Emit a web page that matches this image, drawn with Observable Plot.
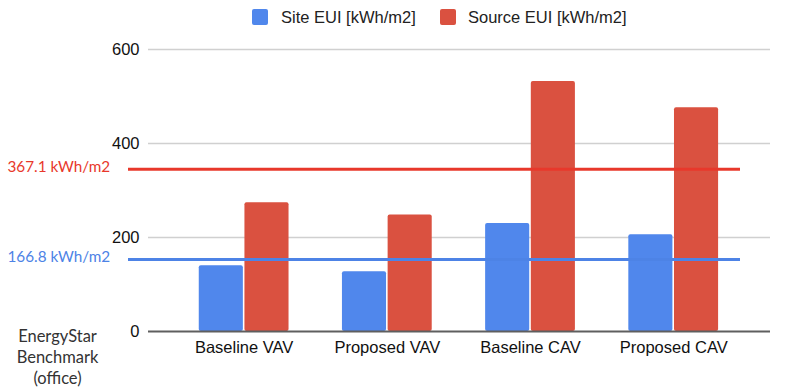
<!DOCTYPE html>
<html>
<head>
<meta charset="utf-8">
<script src="https://cdn.jsdelivr.net/npm/d3@7"></script>
<script src="https://cdn.jsdelivr.net/npm/@observablehq/plot@0.6"></script>
<style>
  html, body { margin: 0; padding: 0; background: #fff; }
  #wrap { position: relative; width: 788px; height: 388px; overflow: hidden; font-family: "Liberation Sans", Arial, sans-serif; }
  #legend { position: relative; height: 34px; }
  .sw { position: absolute; top: 9px; width: 16px; height: 16px; border-radius: 2px; }
  .lt { position: absolute; top: 7px; font-size: 16.5px; line-height: 20px; color: #222; white-space: nowrap; }
  svg { display: block; }
</style>
</head>
<body>
<div id="wrap">
  <div id="legend"></div>
  <div id="chart"></div>
</div>
<script>
const categories = ["Baseline VAV", "Proposed VAV", "Baseline CAV", "Proposed CAV"];
const seriesNames = ["Site EUI [kWh/m2]", "Source EUI [kWh/m2]"];
const siteEUI = [140, 127, 230, 206];
const sourceEUI = [274, 248, 532, 476];
const benchmarkValues = [345, 153];
const benchmarkLabels = ["367.1 kWh/m2", "166.8 kWh/m2"];
const yTicks = [0, 200, 400, 600];
const benchmarkCaption = "EnergyStar\nBenchmark\n(office)";

const barColors = ["#5087ec", "#da5140"];
const lineColors = ["#e8382b", "#4d83e6"];

// legend
const legend = document.getElementById("legend");
const legendPos = [[252, 281], [440, 468]];
seriesNames.forEach((name, k) => {
  const sw = document.createElement("div");
  sw.className = "sw";
  sw.style.left = legendPos[k][0] + "px";
  sw.style.background = barColors[k];
  legend.appendChild(sw);
  const t = document.createElement("div");
  t.className = "lt";
  t.style.left = legendPos[k][1] + "px";
  t.textContent = name;
  legend.appendChild(t);
});

// table
const half = 0.3135, gap = 0.0055;
const rows = [];
categories.forEach((c, i) => {
  rows.push({i, series: seriesNames[0], value: siteEUI[i], x1: i - half, x2: i - gap});
  rows.push({i, series: seriesNames[1], value: sourceEUI[i], x1: i + gap, x2: i + half});
});
const bench = benchmarkValues.map((v, k) => ({value: v, label: benchmarkLabels[k], color: lineColors[k]}));

const chart = Plot.plot({
  width: 788,
  height: 354,
  marginLeft: 148,
  marginRight: 18,
  marginTop: 15,
  marginBottom: 57,
  style: {fontFamily: "'Liberation Sans', Arial, sans-serif", fontSize: "16.5px", color: "#222", background: "#fff"},
  x: {domain: [-0.668, 3.676], axis: null},
  y: {domain: [0, 600], axis: null},
  color: {domain: seriesNames, range: barColors},
  marks: [
    Plot.ruleY(yTicks.filter(d => d > 0), {stroke: "#d0d0d0", strokeWidth: 1.5}),
    Plot.rectY(rows, {x1: "x1", x2: "x2", y: "value", fill: "series", rx: 2}),
    Plot.ruleY([0], {stroke: "#5f5f5f", strokeWidth: 2}),
    Plot.ruleY(bench, {y: "value", stroke: "color", strokeWidth: 3, insetLeft: -20, insetRight: 30}),
    Plot.text(bench, {y: "value", text: "label", fill: "color", frameAnchor: "left", dx: -141, dy: -2, textAnchor: "start",
      fontFamily: "Lato, 'Noto Sans', sans-serif", fontSize: 15.3}),
    Plot.text(yTicks, {y: d => d, text: d => String(d), frameAnchor: "left", dx: -9, textAnchor: "end", fill: "#111"}),
    Plot.text(categories, {x: (d, i) => i, text: d => d, frameAnchor: "bottom", lineAnchor: "top", dy: 10, fill: "#111"}),
    Plot.text([benchmarkCaption], {text: d => d, frameAnchor: "bottom-left", dx: -91, dy: 25, lineAnchor: "middle", textAnchor: "middle",
      lineHeight: 1.27, fontFamily: "Lato, 'Noto Sans', sans-serif", fontSize: 16.5, fill: "#333"})
  ]
});
document.getElementById("chart").appendChild(chart);
</script>
</body>
</html>
